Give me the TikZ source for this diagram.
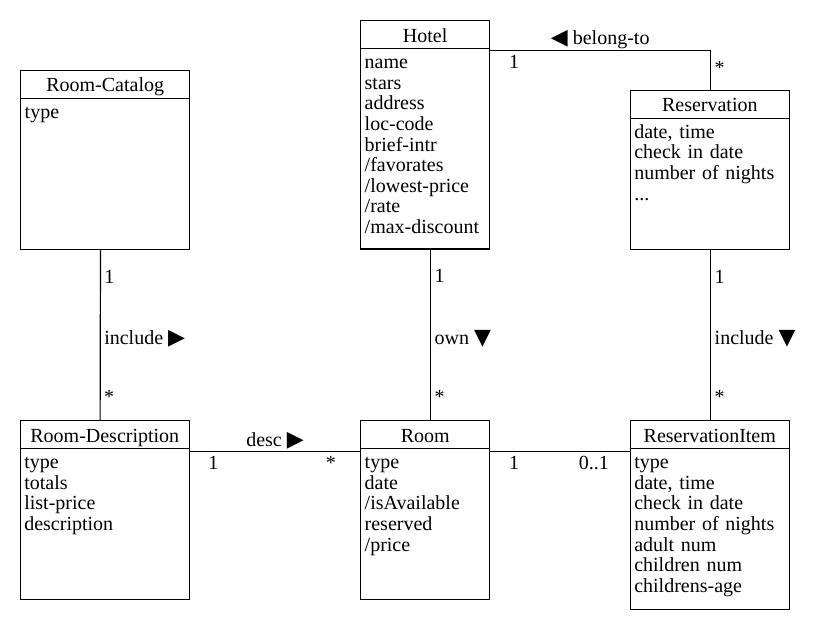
\documentclass[tikz,border=0pt]{standalone}
\usepackage{fontspec}
\setmainfont{Liberation Serif}
\newfontfamily\symfont[Scale=1.1]{DejaVu Sans}
\newcommand\toright{{\symfont ▶}}
\newcommand\todown{{\symfont ▼}}
\newcommand\toleft{{\symfont ◀}}
\usetikzlibrary{positioning}

\begin{document}
\begin{tikzpicture}[x=0.5pt, y=-0.5pt, line width=0.6pt,
    font=\fontsize{10}{10.3}\selectfont]
  \tikzset{
    cls/.style={draw, anchor=north west, minimum width=#1, minimum height=14pt,
      inner sep=0pt, outer sep=0pt, text height=7.5pt, text depth=0pt},
    attrs/.style 2 args={draw, align=left, text width=#1, text height=8.75pt,
      text depth=#2, inner xsep=2pt, inner ysep=1.3pt, outer sep=0pt},
    vmult/.style={anchor=base west, inner sep=2pt, outer sep=0pt},
    role/.style={anchor=base, inner sep=0pt, yshift=2.8pt},
    mult/.style={anchor=base, inner sep=0pt, yshift=-8.9pt},
  }
  \useasboundingbox (0,0) rectangle (830,630);

  \path
  foreach \n/\x/\y/\w/\t in {
    cat/20.7/70.3/84.5pt/Room-Catalog,
    hotel/360.7/20.7/64.5pt/Hotel,
    res/630.3/90.3/79.5pt/Reservation,
    desc/20.3/420.7/84.5pt/Room-Description,
    room/360.7/420.7/64.5pt/Room,
    item/630.3/420.7/79.5pt/ReservationItem
  } { (\x,\y) node[cls=\w] (\n) {\t} };

  \node[attrs={80.5pt}{64.15pt}, below=0pt of cat] (cat-b) {type};
  \node[attrs={60.5pt}{88.8pt}, below=0pt of hotel] (hotel-b)
    {name\\stars\\address\\loc-code\\brief-intr\\/favorates\\/lowest-price\\/rate\\/max-discount};
  \node[attrs={75.5pt}{54.15pt}, below=0pt of res] (res-b)
    {date, time\\check in date\\number of nights\\...};
  \node[attrs={80.5pt}{64.05pt}, below=0pt of desc] (desc-b)
    {type\\totals\\list-price\\description};
  \node[attrs={60.5pt}{64.05pt}, below=0pt of room] (room-b)
    {type\\date\\/isAvailable\\reserved\\/price};
  \node[attrs={75.5pt}{69.05pt}, below=0pt of item] (item-b)
    {type\\date, time\\check in date\\number of nights\\adult num\\children num\\childrens-age};

  \draw ([xshift=-2.35pt]cat-b.south) -- ([xshift=-2.35pt]desc.north)
    node[vmult, pos=0.197] {1}
    node[vmult, pos=0.558] {include \toright}
    node[vmult, pos=0.897] {*};
  \draw ([xshift=2.75pt]hotel-b.south) -- ([xshift=2.75pt]room.north)
    node[vmult, pos=0.197] {1}
    node[vmult, pos=0.558] {own \todown}
    node[vmult, pos=0.897] {*};
  \draw ([xshift=0.45pt]res-b.south) -- ([xshift=0.45pt]item.north)
    node[vmult, pos=0.197] {1}
    node[vmult, pos=0.558] {include \todown}
    node[vmult, pos=0.897] {*};

  \draw ([yshift=-0.85pt]hotel-b.north east) -| ([xshift=0.45pt]res.north)
    node[role, pos=0.25] {\toleft\ belong-to}
    node[mult, pos=0.055] {1}
    node[vmult, pos=0.8] {*};
  \draw ([yshift=-1.6pt]desc-b.north east) -- ([yshift=-1.6pt]room-b.north west)
    node[role, midway] {desc \toright}
    node[mult, pos=0.14] {1}
    node[mult, pos=0.826] {*};
  \draw ([yshift=-1.6pt]room-b.north east) -- ([yshift=-1.6pt]item-b.north west)
    node[mult, pos=0.173] {1}
    node[mult, pos=0.74] {0..1};
\end{tikzpicture}
\end{document}
